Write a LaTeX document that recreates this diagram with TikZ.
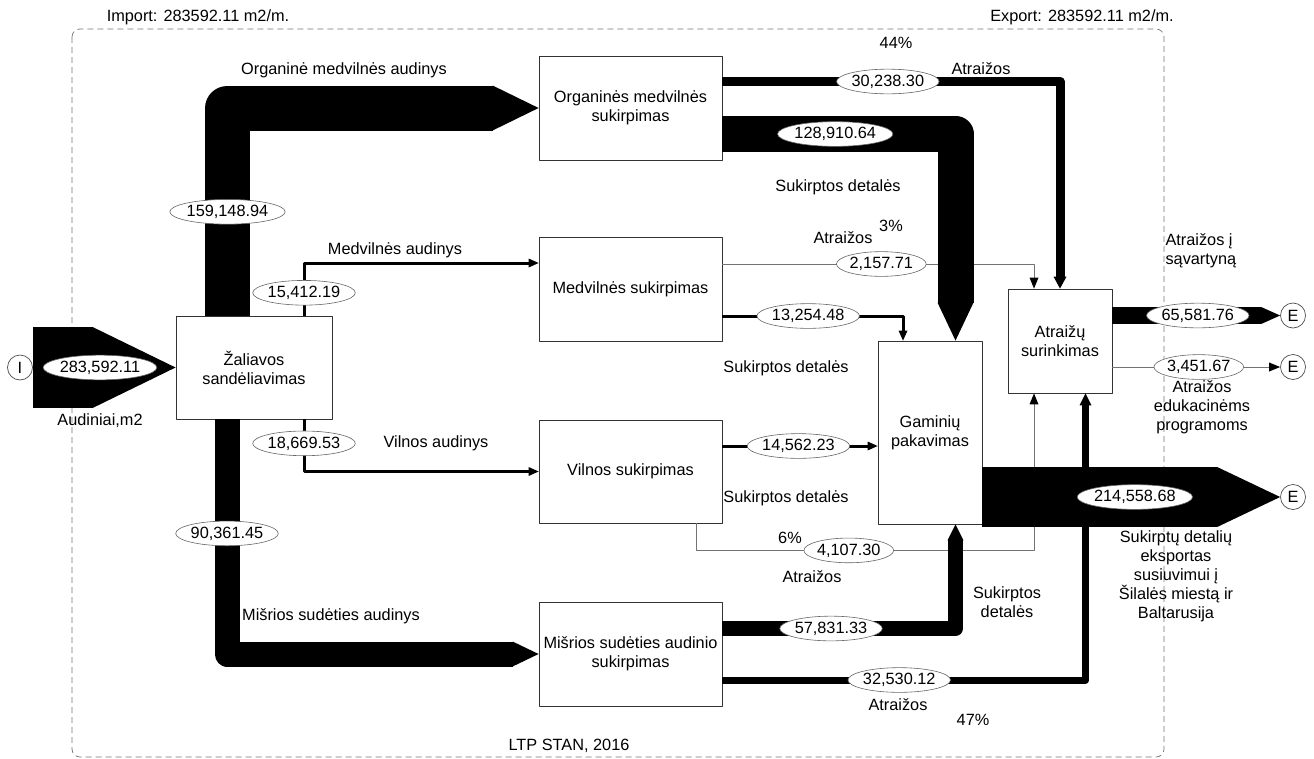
\documentclass[tikz,border=0pt]{standalone}
\usepackage{fontspec}
\setmainfont{Liberation Sans}
\usetikzlibrary{arrows.meta,calc,shapes.geometric}

\begin{document}
\begin{tikzpicture}[x=1pt,y=-1pt, % pixel units, y grows downwards
	line join=round,
	every node/.style={font=\fontsize{16.3}{19}\selectfont},
	proc/.style={draw=black!80,fill=white,line width=0.8pt,align=center,inner sep=0pt,
		minimum width=183pt,minimum height=104pt},
	val/.style={ellipse,draw=black!60,fill=white,text=black,line width=0.6pt,inner xsep=0pt,inner ysep=2pt},
	ends/.style={circle,draw=black!70,fill=white,text=black,line width=0.7pt,minimum size=25pt,inner sep=0pt},
	band/.style={draw=black},
	flow/.style={draw=black,line width=3pt},
	thin/.style={draw=black!55,line width=0.8pt},
	lbl/.style={align=center},
	arrhead/.style 2 args={-{Triangle[length=#1,width=#2,line width=0pt,color=black]}}]
	\useasboundingbox (0,0) rectangle (1314,758);
	\draw[draw=black!55,line width=0.7pt,dash pattern=on 6pt off 4pt,rounded corners=8pt] (72,29) rectangle (1164,757);

	% processes
	\node[proc,minimum width=156pt,minimum height=103pt] (zal) at (254,367.5) {Žaliavos\\sandėliavimas};
	\node[proc] (org)  at (630.5,108)   {Organinės medvilnės\\sukirpimas};
	\node[proc] (medv) at (630.5,289)   {Medvilnės sukirpimas};
	\node[proc,minimum height=103pt] (viln) at (630.5,471.5) {Vilnos sukirpimas};
	\node[proc] (mis)  at (630.5,654)   {Mišrios sudėties audinio\\sukirpimas};
	\node[proc,minimum width=104pt,minimum height=183pt] (gam) at (930,432.5) {Gaminių\\pakavimas};
	\node[proc,minimum width=104pt] (atr) at (1060,341) {Atraižų\\surinkimas};

	\node[ends] (I)  at (20,367.5)   {I};
	\node[ends] (E1) at (1293,315.5) {E};
	\node[ends] (E2) at (1293,367)   {E};
	\node[ends] (E3) at (1293,497)   {E};

	% thin flows
	\draw[thin,arrhead={11pt}{9pt}] ($(medv.east)+(0,-25)$) -| ($(atr.north)+(-26,0)$)
		node[val,pos=0.255] {2,157.71};
	\draw[thin,arrhead={11pt}{9pt}] ($(viln.south)+(65.5,0)$) |- ($(atr.south)+(-26,157)$)
		node[val,pos=0.726] {4,107.30} -- ($(atr.south)+(-26,0)$);
	\draw[thin,arrhead={11pt}{9pt}] ($(atr.east)+(0,26)$) -- (E2) node[val,pos=0.515] {3,451.67};

	% medium flows
	\draw[flow,arrhead={10pt}{9pt}] ($(zal.north)+(50,0)$) |- ($(medv.west)+(0,-26)$)
		node[val,pos=0.217] {15,412.19};
	\draw[flow,arrhead={10pt}{9pt}] ($(zal.south)+(50,0)$) |- (viln.west)
		node[val,pos=0.23] {18,669.53};
	\draw[flow,arrhead={10pt}{9pt}] ($(medv.east)+(0,27)$) -| ($(gam.north)+(-27,0)$)
		node[val,pos=0.2375] {13,254.48};
	\draw[flow,arrhead={10pt}{9pt}] ($(viln.east)+(0,-25.5)$) -- ($(gam.west)+(0,13.5)$)
		node[val,pos=0.49] {14,562.23};

	% bands
	\draw[band,line width=81pt,arrhead={83pt}{81pt}] (I) -- (zal) node[val,pos=0.47] {283,592.11};
	\draw[band,line width=45pt,arrhead={46pt}{45pt}] ($(zal.north)+(-26.5,0)$) |- (org.west)
		node[val,pos=0.25] {159,148.94};
	\draw[band,line width=25pt,arrhead={26pt}{25pt}] ($(zal.south)+(-27,0)$) |- (mis.west)
		node[val,pos=0.243] {90,361.45};
	\draw[band,line width=9pt,arrhead={12pt}{13pt}] ($(org.east)+(0,-26.5)$) -| (atr.north)
		node[val,pos=0.245] {30,238.30};
	\draw[band,line width=36pt,arrhead={38pt}{36pt}] ($(org.east)+(0,26)$) -| ($(gam.north)+(25.5,0)$)
		node[val,pos=0.242] {128,910.64};
	\draw[band,line width=15pt,arrhead={16pt}{16pt}] ($(mis.east)+(0,-25.5)$) -| ($(gam.south)+(25.5,0)$)
		node[val,pos=0.233] {57,831.33};
	\draw[band,line width=7pt,arrhead={12pt}{12pt}] ($(mis.east)+(0,26)$) -| ($(atr.south)+(25.5,0)$)
		node[val,pos=0.2435] {32,530.12};
	\draw[band,line width=60pt,arrhead={63pt}{60pt}] ($(gam.east)+(0,64.5)$) -- (E3)
		node[val,pos=0.512] {214,558.68};
	\draw[band,line width=17pt,arrhead={19pt}{17pt}] ($(atr.east)+(0,-25.5)$) -- (E1)
		node[val,pos=0.509] {65,581.76};

	% texts
	\node (timp) at (198,17)  {Import: 283592.11 m2/m.};
	\node (texp) at (1082,17) {Export: 283592.11 m2/m.};
	\node (torg) at (344,70)  {Organinė medvilnės audinys};
	\node (tmed) at (395,250) {Medvilnės audinys};
	\node (tvil) at (436,443) {Vilnos audinys};
	\node (tmis) at (331,616) {Mišrios sudėties audinys};
	\node (taud) at (100,421) {Audiniai,m2};
	\node (p44)  at (896,43)  {44\%};
	\node (ta1)  at (981,69)  {Atraižos};
	\node (ts1)  at (838,187) {Sukirptos detalės};
	\node (p3)   at (891,226) {3\%};
	\node (ta2)  at (843,238) {Atraižos};
	\node (ts2)  at (786,368) {Sukirptos detalės};
	\node (ts3)  at (786,498) {Sukirptos detalės};
	\node (p6)   at (790,538) {6\%};
	\node (ta3)  at (812,577) {Atraižos};
	\node[lbl] (ts4) at (1007,602) {Sukirptos\\detalės};
	\node (ta4)  at (898,705) {Atraižos};
	\node (p47)  at (973,720) {47\%};
	\node (tltp) at (569,746) {LTP STAN, 2016};
	\node[align=left,anchor=west] (tsav) at (1162,250.5) {Atraižos į\\sąvartyną};
	\node[lbl] (tedu) at (1202,407) {Atraižos\\edukacinėms\\programoms};
	\node[lbl] (texd) at (1176,576.5) {Sukirptų detalių\\eksportas\\susiuvimui į\\Šilalės miestą ir\\Baltarusija};
\end{tikzpicture}
\end{document}
